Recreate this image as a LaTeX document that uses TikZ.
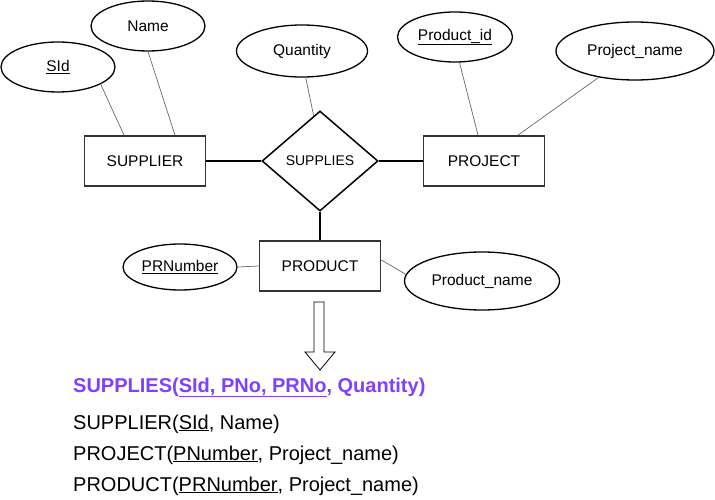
\documentclass[tikz,border=0pt]{standalone}
\usepackage{fontspec}
\setmainfont{Liberation Sans}
\usetikzlibrary{shapes.geometric}
\definecolor{keypurple}{RGB}{127,64,255}
\begin{document}
\begin{tikzpicture}[x=1pt,y=-1pt,
  ent/.style={draw=black!80,line width=1.7pt,minimum width=121pt,minimum height=50pt,inner sep=0pt,font=\fontsize{15.5}{18}\selectfont},
  attr/.style={ellipse,draw,line width=1.3pt,inner sep=0pt,font=\fontsize{15.5}{18}\selectfont},
  rel/.style={diamond,draw,line width=1.5pt,minimum width=116pt,minimum height=100pt,inner sep=0pt,font=\fontsize{14}{16}\selectfont},
  link/.style={draw=black!60,line width=0.7pt},
  conn/.style={line width=1.8pt},
  rowtext/.style={anchor=base west,inner sep=0pt,font=\fontsize{20}{22}\selectfont}]
\useasboundingbox (0,0) rectangle (715,500);
\node[ent] (Sup) at (145,161) {SUPPLIER};
\node[rel] (Supplies) at (320,161) {SUPPLIES};
\node[ent] (Proj) at (484,161) {PROJECT};
\node[ent] (Prod) at (320,266) {PRODUCT};

\node[attr,minimum width=114pt,minimum height=50pt] (SId) at (58,67) {\underline{SId}};
\node[attr,minimum width=114pt,minimum height=50pt] (Name) at (148,26) {Name};
\node[attr,minimum width=131pt,minimum height=52pt] (Qty) at (302,51) {Quantity};
\node[attr,minimum width=115pt,minimum height=50pt] (PId) at (455,37) {\underline{Product\_id}};
\node[attr,minimum width=158pt,minimum height=58pt] (PName) at (635,51) {Project\_name};
\node[attr,minimum width=114pt,minimum height=46pt] (PRNum) at (180,267) {\underline{PRNumber}};
\node[attr,minimum width=155pt,minimum height=58pt] (PrName) at (482,281) {Product\_name};

\draw[conn] (Sup) -- (Supplies);
\draw[conn] (Supplies) -- (Proj);
\draw[conn] (Supplies) -- (Prod);

\draw[link] (SId.-22) -- ([xshift=-21pt]Sup.north);
\draw[link] (Name.south) -- ([xshift=30pt]Sup.north);
\draw[link] (Qty.-82) -- (Supplies.98);
\draw[link] (PId.-80) -- ([xshift=-6pt]Proj.north);
\draw[link] (PName.216) -- ([xshift=34pt]Proj.north);
\draw[link] (PRNum.east) -- (Prod.west);
\draw[link] ([yshift=6pt]Prod.east) -- (PrName.175);

% arrow to the relations
\draw[line width=0.8pt,fill=white] (314,302) -- (324,302) -- (324,352) -- (335,352)
  -- (320,370) -- (305,352) -- (314,352) -- cycle;

\node[rowtext,text=keypurple,font=\fontsize{20}{22}\selectfont\bfseries] (RSupplies) at (73,392)
  {SUPPLIES(\underline{SId, PNo, PRNo}, Quantity)};
\node[rowtext] (RSup) at (73,429) {SUPPLIER(\underline{SId}, Name)};
\node[rowtext] (RProj) at (73,460) {PROJECT(\underline{PNumber}, Project\_name)};
\node[rowtext] (RProd) at (73,491) {PRODUCT(\underline{PRNumber}, Project\_name)};
\end{tikzpicture}
\end{document}
